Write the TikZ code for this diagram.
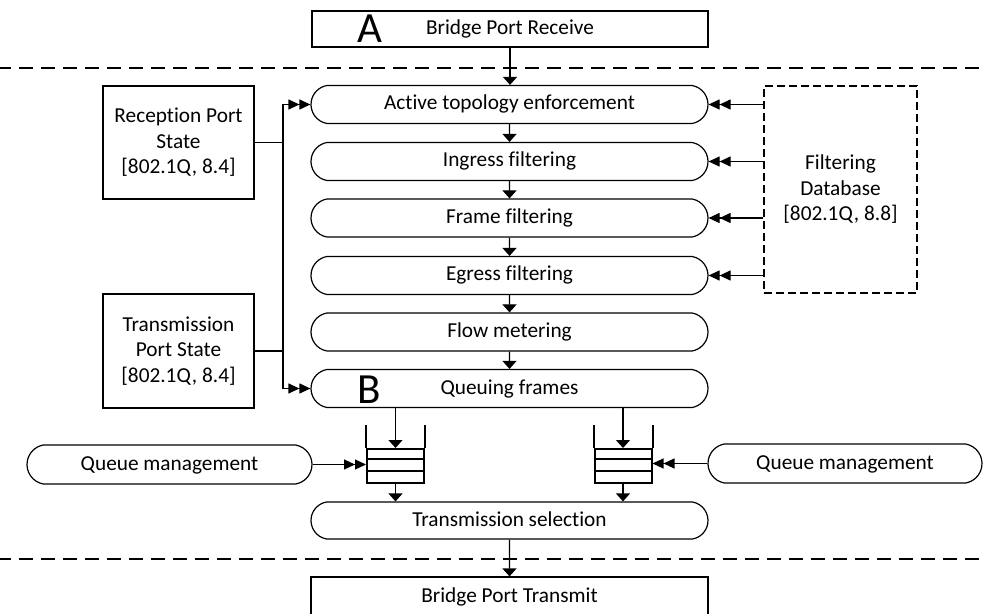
\documentclass[tikz,border=0pt]{standalone}
\usepackage{fontspec}
\setmainfont[Ligatures={NoCommon}]{Carlito}
\usetikzlibrary{arrows.meta,shapes.misc}
\begin{document}
\begin{tikzpicture}[x=1bp,y=-1bp,
  every node/.style={font=\fontsize{21.3bp}{25.5bp}\selectfont},
  line/.style={line width=1.2bp},
  pill/.style={draw, line width=1.2bp, rounded rectangle, rounded rectangle arc length=160,
    minimum width=397bp, minimum height=38bp, inner sep=0pt, text height=15bp, text depth=4bp},
  plainbox/.style={draw, line width=1.2bp, rectangle, inner sep=0pt},
  flow/.style={line width=1.2bp, -{Triangle[length=8bp,width=14bp]}},
  feed/.style={line width=1.2bp, -{Triangle[length=11bp,width=10bp]Triangle[length=11bp,width=10bp]}},
  sep/.style={line width=1.2bp, dash pattern=on 14bp off 8bp},
  big/.style={font=\fontsize{43bp}{43bp}\selectfont, inner sep=0pt, anchor=base},
  qwall/.style={line width=2bp},
  queue/.style={draw, line width=2bp, minimum width=57bp, minimum height=34bp, inner sep=0pt}
]
\useasboundingbox (0,0) rectangle (983,614);

% port boundaries
\coordinate (sepTl) at (-3,68);  \coordinate (sepTr) at (986,68);
\coordinate (sepBl) at (-3,559); \coordinate (sepBr) at (986,559);
\draw[sep] (sepTl) -- (sepTr);
\draw[sep] (sepBl) -- (sepBr);

% receive / transmit ends
\node[plainbox, minimum width=396bp, minimum height=36bp, text height=15bp, text depth=4bp] (recv) at (510,29) {Bridge Port Receive};
\node[big] (lblA) at (370,43) {A};
\node[plainbox, minimum width=397bp, minimum height=40bp, text height=15bp, text depth=4bp] (xmit) at (509.5,597) {Bridge Port Transmit};

% forwarding process stages
\node[pill] (ate) at (509.5,104.5) {Active topology enforcement};
\node[pill] (ingress) at (509.5,161.5) {Ingress filtering};
\node[pill] (frame) at (509.5,218) {Frame filtering};
\node[pill] (egress) at (509.5,275.5) {Egress filtering};
\node[pill] (meter) at (509.5,332) {Flow metering};
\node[pill] (queuing) at (509.5,388.5) {Queuing frames};
\node[big] (lblB) at (369,403) {B};
\node[pill, minimum height=37bp] (txsel) at (509.5,520.5) {Transmission selection};

% port state and filtering database
\node[plainbox, minimum width=151bp, minimum height=113bp, align=center] (rps) at (178.5,142.5) {Reception Port\\State\\{[802.1Q, 8.4]}};
\node[plainbox, minimum width=151bp, minimum height=114bp, align=center] (tps) at (178.5,351) {Transmission\\Port State\\{[802.1Q, 8.4]}};
\node[draw, line width=1.2bp, dash pattern=on 8bp off 4bp, minimum width=153bp, minimum height=207bp,
  align=center, inner sep=0pt] (fdb) at (840.5,189.5) {Filtering\\Database\\{[802.1Q, 8.8]}};

% queue management
\node[pill, minimum width=285bp, minimum height=39bp] (qmL) at (169.5,464.5) {Queue management};
\node[pill, minimum width=274bp, minimum height=39bp] (qmR) at (845,463.5) {Queue management};

% queues
\node[queue] (qL) at (395.5,466) {};
\node[queue] (qR) at (623,466) {};
\foreach \q in {qL,qR}{
  \draw[qwall] (\q.north west) -- ++(0,-23);
  \draw[qwall] (\q.north east) -- ++(0,-23);
  \draw[qwall] ([yshift=-11.33bp]\q.north west) -- ([yshift=-11.33bp]\q.north east);
  \draw[qwall] ([yshift=-22.67bp]\q.north west) -- ([yshift=-22.67bp]\q.north east);
}

% frame flow
\draw[flow] (recv.south) -- (recv.south |- ate.north);
\draw[flow] (ate) -- (ingress);
\draw[flow] (ingress) -- (frame);
\draw[flow] (frame) -- (egress);
\draw[flow] (egress) -- (meter);
\draw[flow] (meter) -- (queuing);
\draw[flow] (queuing.south -| qL.north) -- (qL.north);
\draw[flow] (queuing.south -| qR.north) -- (qR.north);
\draw[flow] (qL.south) -- (qL.south |- txsel.north);
\draw[flow] (qR.south) -- (qR.south |- txsel.north);
\draw[flow] (txsel) -- (xmit);

% port state inputs
\coordinate (jt) at (283,104.5);
\coordinate (jb) at (283,388.5);
\draw[line] (rps.east) -- (rps.east -| jt);
\draw[line] (tps.east) -- (tps.east -| jt);
\draw[feed] (jb) -- (jt) -- (ate.west);
\draw[feed] (jt) -- (jb) -- (queuing.west);

% filtering database inputs
\draw[feed] (fdb.west |- ate.east) -- (ate.east);
\draw[feed] (fdb.west |- ingress.east) -- (ingress.east);
\draw[feed] (fdb.west |- frame.east) -- (frame.east);
\draw[feed] (fdb.west |- egress.east) -- (egress.east);

% queue management inputs
\draw[feed] (qmL.east) -- (qmL.east -| qL.west);
\draw[feed] (qmR.west) -- (qmR.west -| qR.east);
\end{tikzpicture}
\end{document}
